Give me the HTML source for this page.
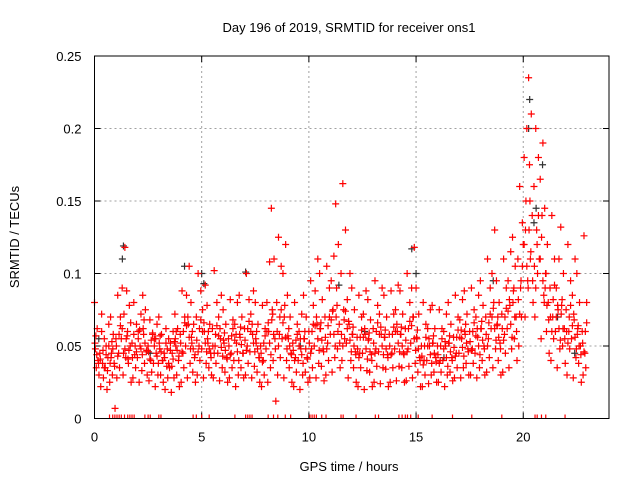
<!DOCTYPE html>
<html><head><meta charset="utf-8"><style>
body{margin:0;background:#fff;}
svg{display:block;font-family:"Liberation Sans",sans-serif;}
</style></head><body>
<svg id="chart" width="640" height="480">
<rect width="640" height="480" fill="#fff"/>
<text x="349" y="32" font-size="13" text-anchor="middle">Day 196 of 2019, SRMTID for receiver ons1</text>
<text x="349" y="471" font-size="13" text-anchor="middle">GPS time / hours</text>
<text transform="translate(19,237) rotate(-90)" font-size="13" text-anchor="middle">SRMTID / TECUs</text>
<g id="grid"></g>
<g id="ticks"></g>
<g id="black"></g>
<g id="red"></g>
<rect x="94.5" y="56" width="514.5" height="362.5" fill="none" stroke="#000" stroke-width="1"/>
</svg>
<script>
// bin start hours (0.25 h bins), values in milli-TECU
const binStep = 0.25;
const redBins = [
[80,62,48,40,35,30],[72,55,45,38,28,22],[65,50,42,35,25,20],[70,58,45,38,30,7],
[85,70,55,45,35,28],[118,90,72,55,42,30],[88,78,60,50,38,25],[80,65,52,44,35,28],
[72,60,50,42,33,25],[85,75,58,46,38,30],[68,58,50,40,32,26],[65,55,45,38,30,22],
[70,58,48,40,30,25],[62,55,45,36,28,20],[60,52,45,35,28,18],[72,62,50,40,30,22],
[88,70,58,45,35,25],[105,85,65,50,38,28],[80,65,52,42,32,25],[100,88,70,50,40,30],
[92,75,60,48,38,28],[78,65,52,45,35,30],[102,80,62,50,38,28],[85,70,55,45,35,26],
[75,65,52,42,32,25],[82,68,55,45,35,28],[80,65,52,40,30,22],[85,70,56,45,35,28],
[100,82,62,50,38,30],[88,72,58,46,36,28],[80,65,52,42,32,25],[78,62,50,40,30,22],
[108,80,60,48,35,25],[145,110,75,55,40,12],[125,105,80,58,42,30],[120,100,78,55,40,28],
[85,70,55,45,35,25],[80,65,52,42,32,22],[72,60,48,40,30,20],[85,70,55,42,32,25],
[95,78,60,48,35,28],[110,88,65,50,38,28],[100,82,62,48,36,26],[105,90,70,52,40,30],
[112,95,75,58,42,32],[148,120,90,65,48,35],[162,130,100,75,55,40],[100,82,65,52,40,28],
[90,75,58,46,35,25],[85,70,56,45,35,22],[88,72,58,45,33,20],[82,68,55,44,32,22],
[95,78,62,48,36,25],[90,72,58,46,35,24],[85,70,56,44,34,22],[88,72,58,45,35,25],
[92,75,60,48,36,26],[88,72,58,45,35,25],[100,80,62,48,36,26],[118,90,70,52,38,28],
[90,72,55,42,32,22],[80,65,50,40,30,22],[75,62,50,40,30,24],[78,62,52,42,32,25],
[75,62,50,40,32,25],[72,60,50,40,30,22],[80,65,52,42,32,26],[85,70,56,45,35,28],
[82,68,55,45,35,28],[88,72,58,48,38,30],[90,75,60,48,38,30],[85,70,56,45,35,28],
[95,78,62,50,40,30],[110,90,70,55,42,32],[130,100,80,62,48,35],[95,80,65,52,40,30],
[110,90,72,58,45,32],[115,95,78,62,48,35],[125,105,88,70,55,40],[160,135,110,90,70,50],
[200,180,150,120,95,70],[235,210,175,140,110,80],[200,180,160,130,100,70],[190,165,140,110,85,55],
[145,120,100,80,60,45],[140,110,90,70,55,40],[110,90,75,60,48,35],[132,100,78,62,50,38],
[120,95,75,60,48,30],[110,85,68,55,42,28],[100,80,62,50,38,25],[126,80,60,45,35,30]
];
// dense core of each bin (milli-TECU)
const redCore = [
[52,44,38,57],[47,41,60,35],[44,50,38,33],[42,48,36,53],
[58,50,43,64],[62,48,55,45],[57,47,66,41],[50,42,58,46],
[55,48,44,61],[62,52,47,68],[54,46,41,59],[50,43,38,55],
[52,46,40,57],[48,42,52,38],[47,41,53,36],[55,47,43,60],
[60,52,46,66],[64,56,48,70],[56,48,44,60],[62,54,46,68],
[60,52,46,66],[55,48,42,60],[58,50,45,64],[57,49,43,62],
[54,47,41,59],[57,50,44,62],[54,46,40,58],[58,51,45,63],
[62,54,47,67],[60,52,46,65],[55,48,42,60],[52,45,39,57],
[60,52,44,66],[68,58,48,72],[70,60,50,75],[66,56,48,70],
[57,50,44,62],[54,47,40,58],[50,44,38,55],[55,48,41,60],
[60,52,45,65],[64,55,47,70],[62,54,46,66],[64,56,48,70],
[68,58,50,74],[70,60,52,78],[68,58,50,74],[62,54,46,67],
[58,50,44,63],[56,48,42,61],[56,48,41,62],[54,46,40,59],
[60,52,45,66],[58,50,44,63],[56,48,42,61],[58,50,44,63],
[60,52,46,65],[58,50,44,63],[62,54,46,67],[64,55,47,70],
[56,48,40,61],[50,43,37,56],[50,44,38,55],[52,45,39,57],
[50,44,38,55],[48,42,36,53],[52,46,40,57],[56,49,43,61],
[56,49,43,61],[60,52,46,65],[60,53,47,66],[57,50,44,62],
[62,54,48,67],[66,58,50,72],[70,62,54,76],[64,56,48,70],
[70,62,54,76],[74,65,56,82],[80,70,60,90],[95,82,72,105],
[120,105,90,130],[130,115,95,150],[120,105,90,140],[110,95,80,125],
[90,78,68,100],[82,70,60,92],[70,62,54,78],[72,62,55,82],
[70,60,52,78],[64,56,48,72],[58,50,44,64],[60,52,46,66]
];
const blackHours = [0.2,1.3,1.35,2.6,4.2,5.0,5.1,7.05,9.6,11.4,12.6,14.8,15.0,16.3,18.6,20.25,20.3,20.5,20.6,20.9,21.6,22.4];
const blackVals  = [55,110,119,45,105,100,93,101,50,92,60,117,100,42,95,200,220,135,145,175,70,45];
const zeroHours = [0.7,0.85,0.95,1.05,1.15,1.25,1.4,1.55,1.65,1.75,1.85,2.35,2.5,2.6,3.0,3.1,4.6,4.75,5.0,5.35,6.55,7.05,7.15,7.25,7.35,8.1,8.35,8.55,8.9,9.15,10.05,10.15,10.25,10.35,10.6,10.8,11.5,11.6,12.2,13.1,13.25,14.2,14.35,14.5,14.6,14.75,15.1,15.75,16.7,17.6,19.0,20.55,20.65,20.85,21.05,21.95];
const xTicks = [0,5,10,15,20];
const yTicks = [0,0.05,0.1,0.15,0.2,0.25];
const yTickLabels = ["0","0.05","0.1","0.15","0.2","0.25"];

const X0=94.5,X1=609,Y0=418.5,Y1=56;
function xs(h){return X0+(X1-X0)*h/24;}
function ys(v){return Y0-(Y0-Y1)*v/0.25;}
const NS='http://www.w3.org/2000/svg';
function mk(tag,parent,attrs){const e=document.createElementNS(NS,tag);for(const k in attrs)e.setAttribute(k,attrs[k]);parent.appendChild(e);return e;}
const grid=document.getElementById('grid'),ticks=document.getElementById('ticks');
xTicks.forEach(t=>{
  const x=xs(t);
  if(t>0){const l=mk('line',grid,{x1:x,x2:x,y1:Y1,y2:Y0,stroke:'#a0a0a0','stroke-dasharray':'2,3'});
  
  }
  mk('line',ticks,{x1:x,x2:x,y1:Y0,y2:Y0-6,stroke:'#000'});
  mk('line',ticks,{x1:x,x2:x,y1:Y1,y2:Y1+6,stroke:'#000'});
  const tx=mk('text',ticks,{x:x,y:Y0+23,'font-size':13,'text-anchor':'middle'});tx.textContent=t;
  
  
});
yTicks.forEach((t,i)=>{
  const y=ys(t);
  if(t>0&&t<0.25){const l=mk('line',grid,{x1:X0,x2:X1,y1:y,y2:y,stroke:'#a0a0a0','stroke-dasharray':'2,3'});
  
  }
  mk('line',ticks,{x1:X0,x2:X0+6,y1:y,y2:y,stroke:'#000'});
  mk('line',ticks,{x1:X1,x2:X1-6,y1:y,y2:y,stroke:'#000'});
  const tx=mk('text',ticks,{x:X0-13,y:y+5,'font-size':13,'text-anchor':'end'});tx.textContent=yTickLabels[i];
  
  
});
function plus(g,x,y,c){
  const p=mk('path',g,{d:`M${x-3.5},${y}h7M${x},${y-3.5}v7`,stroke:c,'stroke-width':1.2,fill:'none'});
  
  
}
const black=document.getElementById('black'),red=document.getElementById('red');
blackHours.forEach((h,i)=>plus(black,xs(h),ys(blackVals[i]/1000),'#333'));
const orders=[[0,3,1,4,2,5],[2,5,0,3,4,1],[4,1,3,0,5,2]];
redBins.forEach((vals,b)=>{
  const order=orders[b%3];
  vals.forEach((v,k)=>{
    const h=b*binStep+order[k]*binStep/6;
    plus(red,xs(h),ys(v/1000),'#ff0000');
  });
});
const corder=[[0.5,2.5,4.5,1.5],[3.5,0.5,2,5],[1,4,5.5,2.5]];
redCore.forEach((vals,b)=>{
  vals.forEach((v,k)=>{
    const h=b*binStep+corder[b%3][k]*binStep/6;
    plus(red,xs(h),ys(v/1000),'#ff0000');
  });
});
zeroHours.forEach(h=>{
  const p=mk('path',red,{d:`M${xs(h)},${Y0-4}v4`,stroke:'#ff0000','stroke-width':1.2});
  
  
});
</script>
</body></html>
